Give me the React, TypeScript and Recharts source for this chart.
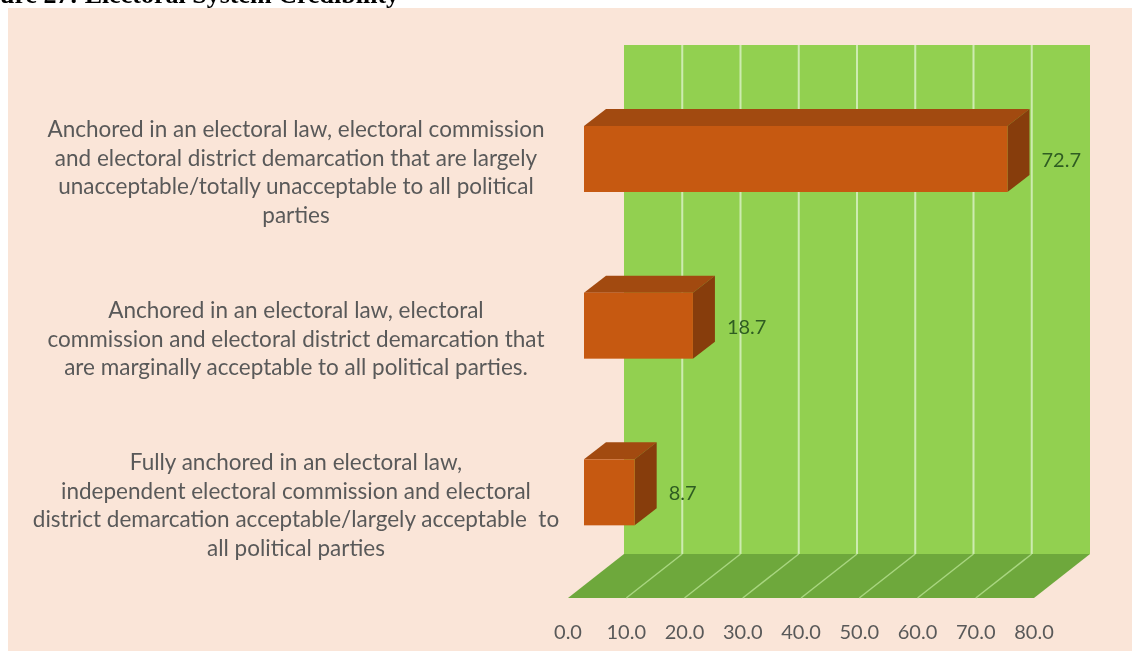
import { BarChart, Bar, XAxis, YAxis, ReferenceArea, LabelList } from "recharts"

const categories = [
  "Anchored in an electoral law, electoral commission\nand electoral district demarcation that are largely\nunacceptable/totally unacceptable to all political\nparties",
  "Anchored in an electoral law, electoral\ncommission and electoral district demarcation that\nare marginally acceptable to all political parties.",
  "Fully anchored in an electoral law,\nindependent electoral commission and electoral\ndistrict demarcation acceptable/largely acceptable  to\nall political parties",
]
const values = [72.7, 18.7, 8.7]
const xTicks = [0, 10, 20, 30, 40, 50, 60, 70, 80]

const data = categories.map((name, i) => ({ name, value: values[i] }))

const FONT = "Lato, 'Open Sans', sans-serif"
const xMax = xTicks[xTicks.length - 1]

// 3D back wall + floor, drawn from the reference area's pixel box
function Wall(props: any) {
  const { x, y, width, height } = props
  const wx = x + 40
  const top = y - 31
  const back = y + height - 22
  const front = y + height + 22
  const fx = x - 16
  const fracs = xTicks.slice(1, -1).map((t) => t / xMax)
  return (
    <g>
      <rect x={wx} y={top} width={width} height={back - top} fill="#92D050" />
      <polygon
        points={`${wx},${back} ${wx + width},${back} ${fx + width},${front} ${fx},${front}`}
        fill="#6EA83C"
      />
      {fracs.map((f) => (
        <line key={"w" + f} x1={wx + f * width} y1={top} x2={wx + f * width} y2={back} stroke="#CDEBB0" strokeWidth={2} />
      ))}
      {fracs.map((f) => (
        <line key={"f" + f} x1={wx + f * width} y1={back} x2={fx + f * width} y2={front} stroke="#A9D680" strokeWidth={1.5} />
      ))}
    </g>
  )
}

function Box(props: any) {
  const { x, y, width, height } = props
  const dx = 22
  const dy = 17
  return (
    <g>
      <polygon
        points={`${x},${y} ${x + dx},${y - dy} ${x + width + dx},${y - dy} ${x + width},${y}`}
        fill="#A24A10"
      />
      <polygon
        points={`${x + width},${y} ${x + width + dx},${y - dy} ${x + width + dx},${y + height - dy} ${x + width},${y + height}`}
        fill="#873D0C"
      />
      <rect x={x} y={y} width={width} height={height} fill="#C65911" />
    </g>
  )
}

function ValueLabel(props: any) {
  const x = Number(props.x)
  const y = Number(props.y)
  const w = Number(props.width)
  const h = Number(props.height)
  return (
    <text
      x={x + w + 22 + 12}
      y={y + h / 2}
      dominantBaseline="central"
      fontFamily={FONT}
      fontSize={20}
      fill="#2F5D22"
    >
      {Number(props.value).toFixed(1)}
    </text>
  )
}

function XTick(props: any) {
  const { x, y, payload } = props
  return (
    <text x={x - 16} y={y + 47} textAnchor="middle" dominantBaseline="central" fontFamily={FONT} fontSize={20} fill="#595959">
      {Number(payload.value).toFixed(1)}
    </text>
  )
}

function YTick(props: any) {
  const { y, payload } = props
  const lines = String(payload.value).split("\n")
  const lh = 28.5
  const cx = 288
  const startY = y + 12 - ((lines.length - 1) * lh) / 2
  return (
    <text textAnchor="middle" fontFamily={FONT} fontSize={22.5} fill="#595959" style={{ whiteSpace: "pre" }}>
      {lines.map((l, i) => (
        <tspan key={i} x={cx} y={startY + i * lh} dominantBaseline="central">
          {l}
        </tspan>
      ))}
    </text>
  )
}

export default function App() {
  return (
    <div style={{ position: "fixed", left: 8, top: 8, width: 1124, height: 643, background: "#FAE5D8" }}>
      <div
        style={{
          position: "absolute",
          left: -8,
          top: -26,
          fontFamily: "'Liberation Serif', serif",
          fontWeight: "bold",
          fontSize: 26,
          lineHeight: "26px",
          whiteSpace: "nowrap",
          color: "#000",
        }}
      >
        ure 27: Electoral System Credibility
      </div>
      <BarChart
        width={1124}
        height={643}
        data={data}
        layout="vertical"
        margin={{ top: 68, right: 82, bottom: 15, left: 0 }}
      >
        <XAxis
          type="number"
          domain={[0, xMax]}
          ticks={xTicks}
          interval={0}
          axisLine={false}
          tickLine={false}
          height={60}
          tick={XTick}
        />
        <YAxis
          type="category"
          dataKey="name"
          width={576}
          axisLine={false}
          tickLine={false}
          interval={0}
          tick={YTick}
        />
        <ReferenceArea x1={0} x2={xMax} shape={Wall} ifOverflow="visible" />
        <Bar dataKey="value" barSize={66} shape={Box} isAnimationActive={false}>
          <LabelList dataKey="value" content={ValueLabel} />
        </Bar>
      </BarChart>
    </div>
  )
}
